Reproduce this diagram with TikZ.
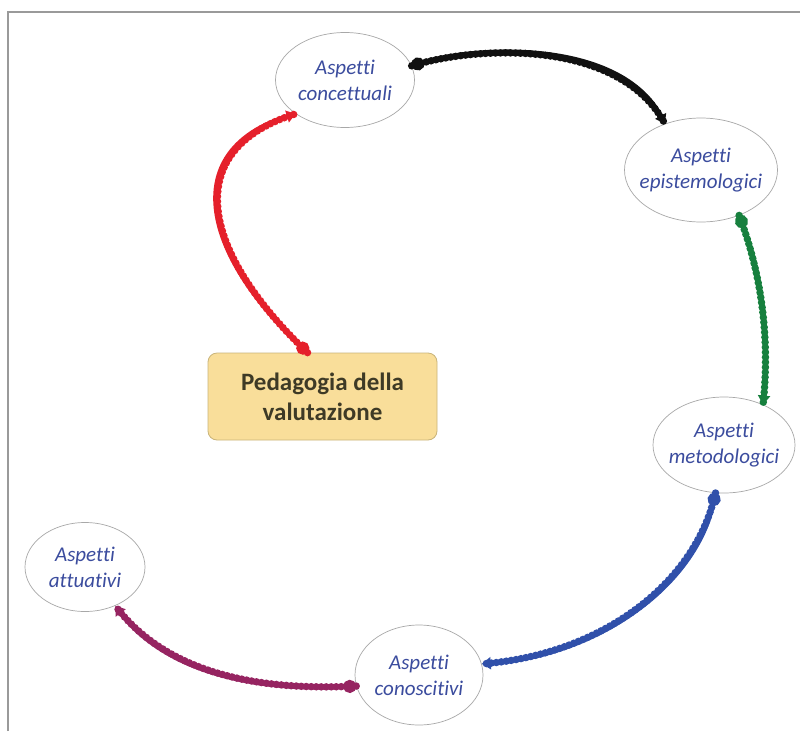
\documentclass[tikz,border=0pt]{standalone}
\usepackage{fontspec}
\setmainfont[Ligatures={NoCommon}]{Carlito}
\usetikzlibrary{arrows.meta,shapes.geometric,calc}
\definecolor{txtblue}{HTML}{3B4C9E}
\definecolor{ellline}{HTML}{A8A8A8}
\definecolor{boxfill}{HTML}{F9DE9A}
\definecolor{boxline}{HTML}{C9B47A}
\definecolor{boxtext}{HTML}{3E3A26}
\definecolor{cred}{HTML}{E5202B}
\definecolor{cblack}{HTML}{111111}
\definecolor{cgreen}{HTML}{17803E}
\definecolor{cblue}{HTML}{3050AA}
\definecolor{cpurple}{HTML}{962461}
\definecolor{framegray}{HTML}{9A9A9A}
\begin{document}
\begin{tikzpicture}[x=1pt,y=-1pt,
  aspell/.style={ellipse, draw=ellline, line width=0.7pt, fill=white, inner sep=0pt},
  asptext/.style={align=center, inner sep=0pt, text=txtblue,
    font=\fontsize{21}{26}\selectfont\itshape},
  pedbox/.style={rectangle, rounded corners=9pt, draw=boxline, line width=0.8pt,
    fill=boxfill, minimum width=229pt, minimum height=87pt, align=center,
    text=boxtext, font=\fontsize{25}{30}\selectfont\bfseries},
  conn/.style={draw=#1, line width=4.5pt,
    arrows={Circle[length=13pt,width=13pt]-Triangle[length=9pt,width=12pt]},
    postaction={draw=#1, -, line width=7.5pt, line cap=round, dash pattern=on 0pt off 5pt}}
]
\useasboundingbox (0,0) rectangle (800,731);
\fill[white] (0,0) rectangle (800,731);
\draw[framegray, line width=1.6pt] (8,731) -- (8,12) -- (800,12);

% ellipses
\node[aspell, minimum width=139pt, minimum height=95pt] (conc) at (345,80) {};
\node[asptext] (conc-t) at (conc) {Aspetti\\concettuali};
\node[aspell, minimum width=153pt, minimum height=104pt] (epi) at (701,170) {};
\node[asptext] (epi-t) at (epi) {Aspetti\\epistemologici};
\node[aspell, minimum width=142pt, minimum height=96pt] (met) at (724,445) {};
\node[asptext] (met-t) at (met) {Aspetti\\metodologici};
\node[aspell, minimum width=128pt, minimum height=100pt] (con) at (419,675) {};
\node[asptext] (con-t) at (con) {Aspetti\\conoscitivi};
\node[aspell, minimum width=120pt, minimum height=89pt] (att) at (85,567) {};
\node[asptext] (att-t) at (att) {Aspetti\\attuativi};

% central box
\node[pedbox] (ped) at (322.5,396.5) {Pedagogia della\\valutazione};

% connectors
\draw[conn=cred] ([xshift=-15pt]ped.north) .. controls (200,250) and (180,150) .. (conc.south west);
\draw[conn=cblack] (conc.12) .. controls (480,45) and (620,40) .. (epi.128);
\draw[conn=cgreen] (epi.-50) .. controls (762,275) and (770,340) .. (met.46);
\draw[conn=cblue] (met.-100) .. controls (695,585) and (600,655) .. (con.10);
\draw[conn=cpurple] (con.190) .. controls (240,692) and (160,665) .. (att.-52);
\end{tikzpicture}
\end{document}
